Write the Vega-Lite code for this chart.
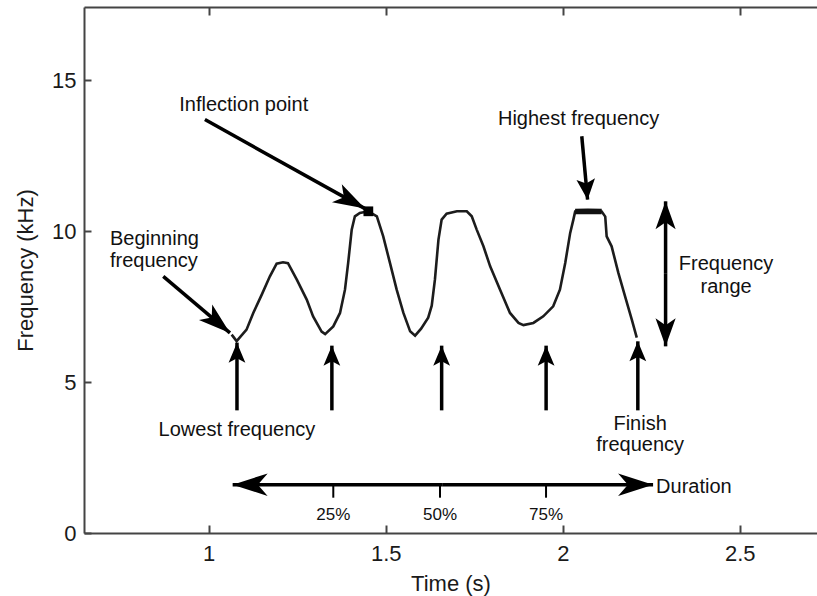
{
  "$schema": "https://vega.github.io/schema/vega-lite/v6.json",
  "width": 733,
  "height": 526,
  "autosize": {"type": "none"},
  "padding": {"left": 84, "top": 7, "right": 0, "bottom": 63},
  "background": "white",
  "config": {
    "view": {"stroke": null},
    "font": "Liberation Sans",
    "text": {"font": "Liberation Sans"}
  },
  "datasets": {
    "contour": [
      {"t": 1.065, "f": 6.573}, {"t": 1.079, "f": 6.357}, {"t": 1.107, "f": 6.739}, {"t": 1.126, "f": 7.292},
      {"t": 1.150, "f": 7.899}, {"t": 1.173, "f": 8.505}, {"t": 1.192, "f": 8.926}, {"t": 1.210, "f": 8.969},
      {"t": 1.224, "f": 8.943}, {"t": 1.249, "f": 8.396}, {"t": 1.277, "f": 7.733}, {"t": 1.295, "f": 7.179},
      {"t": 1.319, "f": 6.672}, {"t": 1.329, "f": 6.589}, {"t": 1.352, "f": 6.848}, {"t": 1.371, "f": 7.292},
      {"t": 1.385, "f": 8.064}, {"t": 1.394, "f": 8.949}, {"t": 1.404, "f": 10.053}, {"t": 1.413, "f": 10.494},
      {"t": 1.427, "f": 10.607}, {"t": 1.451, "f": 10.660}, {"t": 1.475, "f": 10.494}, {"t": 1.493, "f": 9.831},
      {"t": 1.512, "f": 8.949}, {"t": 1.531, "f": 8.064}, {"t": 1.550, "f": 7.292}, {"t": 1.569, "f": 6.682},
      {"t": 1.583, "f": 6.540}, {"t": 1.600, "f": 6.772}, {"t": 1.620, "f": 7.136}, {"t": 1.630, "f": 7.534},
      {"t": 1.639, "f": 8.396}, {"t": 1.649, "f": 9.722}, {"t": 1.658, "f": 10.385}, {"t": 1.672, "f": 10.583},
      {"t": 1.701, "f": 10.660}, {"t": 1.729, "f": 10.660}, {"t": 1.743, "f": 10.494}, {"t": 1.757, "f": 10.053},
      {"t": 1.776, "f": 9.500}, {"t": 1.795, "f": 8.837}, {"t": 1.823, "f": 8.064}, {"t": 1.851, "f": 7.292},
      {"t": 1.875, "f": 6.961}, {"t": 1.889, "f": 6.888}, {"t": 1.917, "f": 6.961}, {"t": 1.945, "f": 7.179},
      {"t": 1.973, "f": 7.511}, {"t": 1.992, "f": 8.064}, {"t": 2.007, "f": 8.949}, {"t": 2.021, "f": 9.944},
      {"t": 2.030, "f": 10.385}, {"t": 2.035, "f": 10.650}, {"t": 2.071, "f": 10.660}, {"t": 2.110, "f": 10.650},
      {"t": 2.120, "f": 10.484}, {"t": 2.124, "f": 9.831}, {"t": 2.138, "f": 9.500}, {"t": 2.157, "f": 8.618},
      {"t": 2.176, "f": 7.842}, {"t": 2.195, "f": 7.070}, {"t": 2.209, "f": 6.473}
    ],
    "plateau": [
      {"t": 2.035, "f": 10.650}, {"t": 2.071, "f": 10.660}, {"t": 2.110, "f": 10.650}
    ],
    "inflection": [{"t": 1.451, "f": 10.660}],
    "arrows": [
      {"id": "inflection", "t0": 0.9895, "f0": 13.699, "t1": 1.4415, "f1": 10.749},
      {"id": "beginning", "t0": 0.8718, "f0": 8.505, "t1": 1.0602, "f1": 6.629},
      {"id": "highest", "t0": 2.0537, "f0": 13.146, "t1": 2.0701, "f1": 11.047},
      {"id": "low1", "t0": 1.080, "f0": 4.064, "t1": 1.080, "f1": 6.308},
      {"id": "low2", "t0": 1.348, "f0": 4.064, "t1": 1.348, "f1": 6.208},
      {"id": "low3", "t0": 1.658, "f0": 4.064, "t1": 1.658, "f1": 6.208},
      {"id": "low4", "t0": 1.953, "f0": 4.064, "t1": 1.953, "f1": 6.208},
      {"id": "finish", "t0": 2.212, "f0": 4.064, "t1": 2.212, "f1": 6.351},
      {"id": "range_top", "t0": 2.2904, "f0": 8.588, "t1": 2.2904, "f1": 10.991},
      {"id": "range_bottom", "t0": 2.2904, "f0": 8.588, "t1": 2.2904, "f1": 6.185},
      {"id": "dur_left", "t0": 1.6614, "f0": 1.601, "t1": 1.0678, "f1": 1.601},
      {"id": "dur_right", "t0": 1.6614, "f0": 1.601, "t1": 2.2551, "f1": 1.601}
    ],
    "dur_ticks": [
      {"t": 1.352, "f0": 1.601, "f1": 1.17},
      {"t": 1.6534, "f0": 1.601, "f1": 1.17},
      {"t": 1.9528, "f0": 1.601, "f1": 1.17}
    ],
    "notes_left": [
      {"label": "Inflection point", "t": 0.917, "f": 13.974},
      {"label": "Beginning", "t": 0.7212, "f": 9.556},
      {"label": "frequency", "t": 0.7212, "f": 8.81},
      {"label": "Duration", "t": 2.2636, "f": 1.336}
    ],
    "notes_center": [
      {"label": "Lowest frequency", "t": 1.080, "f": 3.225},
      {"label": "Finish", "t": 2.2184, "f": 3.424},
      {"label": "frequency", "t": 2.2184, "f": 2.711},
      {"label": "Highest frequency", "t": 2.0446, "f": 13.533},
      {"label": "Frequency", "t": 2.4613, "f": 8.704},
      {"label": "range", "t": 2.4613, "f": 7.965}
    ],
    "pct": [
      {"label": "25%", "t": 1.352, "f": 0.441},
      {"label": "50%", "t": 1.6534, "f": 0.441},
      {"label": "75%", "t": 1.9528, "f": 0.441}
    ]
  },
  "resolve": {"axis": {"x": "independent", "y": "independent"}},
  "layer": [
    {
      "data": {"name": "contour"},
      "mark": {"type": "line", "color": "#1c1c1c", "strokeWidth": 2.6, "interpolate": "linear"},
      "encoding": {
        "x": {
          "field": "t", "type": "quantitative",
          "scale": {"domain": [0.648, 2.718], "nice": false, "zero": false},
          "axis": {
            "orient": "bottom", "values": [1, 1.5, 2, 2.5], "format": "~g",
            "grid": false, "domain": true, "domainColor": "#444", "domainWidth": 2,
            "ticks": true, "tickSize": -8, "tickWidth": 2, "tickColor": "#444",
            "labelPadding": 18, "labelFontSize": 22, "labelFont": "Liberation Sans", "labelColor": "#1a1a1a",
            "labelFlush": false, "labelOverlap": false,
            "title": "Time (s)", "titleFontSize": 22, "titleFont": "Liberation Sans", "titleFontWeight": "normal",
            "titleColor": "#1a1a1a", "titleBaseline": "alphabetic", "titleY": 57
          }
        },
        "y": {
          "field": "f", "type": "quantitative",
          "scale": {"domain": [0, 17.43], "nice": false, "zero": false},
          "axis": {
            "orient": "left", "values": [0, 5, 10, 15], "format": "~g",
            "grid": false, "domain": true, "domainColor": "#444", "domainWidth": 2,
            "ticks": true, "tickSize": -7, "tickWidth": 2, "tickColor": "#444",
            "labelPadding": 15, "labelFontSize": 22, "labelFont": "Liberation Sans", "labelColor": "#1a1a1a",
            "labelFlush": false, "labelOverlap": false,
            "title": "Frequency (kHz)", "titleFontSize": 22, "titleFont": "Liberation Sans", "titleFontWeight": "normal",
            "titleColor": "#1a1a1a", "titleAngle": 270, "titleAlign": "center", "titleBaseline": "alphabetic",
            "titleX": -52, "titleY": 263
          }
        }
      }
    },
    {
      "data": {"name": "plateau"},
      "mark": {"type": "line", "color": "#111", "strokeWidth": 5.5},
      "encoding": {
        "x": {
          "field": "t", "type": "quantitative",
          "axis": {
            "orient": "top", "values": [1, 1.5, 2, 2.5], "labels": false, "title": null,
            "grid": false, "domain": true, "domainColor": "#444", "domainWidth": 2,
            "ticks": true, "tickSize": -8, "tickWidth": 2, "tickColor": "#444"
          }
        },
        "y": {"field": "f", "type": "quantitative", "axis": null}
      }
    },
    {
      "data": {"name": "arrows"},
      "mark": {"type": "rule", "color": "#000", "strokeWidth": 3.5},
      "encoding": {
        "x": {"field": "t0", "type": "quantitative", "axis": null},
        "y": {"field": "f0", "type": "quantitative", "axis": null},
        "x2": {"field": "t1"},
        "y2": {"field": "f1"}
      }
    },
    {
      "data": {"name": "dur_ticks"},
      "mark": {"type": "rule", "color": "#000", "strokeWidth": 2},
      "encoding": {
        "x": {"field": "t", "type": "quantitative", "axis": null},
        "y": {"field": "f0", "type": "quantitative", "axis": null},
        "y2": {"field": "f1"}
      }
    },
    {
      "data": {"name": "inflection"},
      "mark": {"type": "point", "shape": "square", "filled": true, "color": "#000", "opacity": 1, "size": 95},
      "encoding": {
        "x": {"field": "t", "type": "quantitative", "axis": null},
        "y": {"field": "f", "type": "quantitative", "axis": null}
      }
    },
    {
      "data": {"name": "arrows"},
      "transform": [{"filter": {"field": "id", "oneOf": ["low1", "low2", "low3", "low4", "finish"]}}],
      "mark": {"type": "point", "shape": "M0,0 L0.42,1 L0,0.78 L-0.42,1 Z", "filled": true, "color": "#000", "opacity": 1, "strokeWidth": 0, "size": 1600, "angle": 0},
      "encoding": {
        "x": {"field": "t1", "type": "quantitative", "axis": null},
        "y": {"field": "f1", "type": "quantitative", "axis": null}
      }
    },
    {
      "data": {"name": "arrows"},
      "transform": [{"filter": {"field": "id", "equal": "highest"}}],
      "mark": {"type": "point", "shape": "M0,0 L0.45,1 L0,0.78 L-0.45,1 Z", "filled": true, "color": "#000", "opacity": 1, "strokeWidth": 0, "size": 1700, "angle": 174.9},
      "encoding": {
        "x": {"field": "t1", "type": "quantitative", "axis": null},
        "y": {"field": "f1", "type": "quantitative", "axis": null}
      }
    },
    {
      "data": {"name": "arrows"},
      "transform": [{"filter": {"field": "id", "equal": "range_top"}}],
      "mark": {"type": "point", "shape": "M0,0 L0.36,1 L0,0.75 L-0.36,1 Z", "filled": true, "color": "#000", "opacity": 1, "strokeWidth": 0, "size": 3136, "angle": 0},
      "encoding": {
        "x": {"field": "t1", "type": "quantitative", "axis": null},
        "y": {"field": "f1", "type": "quantitative", "axis": null}
      }
    },
    {
      "data": {"name": "arrows"},
      "transform": [{"filter": {"field": "id", "equal": "range_bottom"}}],
      "mark": {"type": "point", "shape": "M0,0 L0.36,1 L0,0.75 L-0.36,1 Z", "filled": true, "color": "#000", "opacity": 1, "strokeWidth": 0, "size": 3136, "angle": 180},
      "encoding": {
        "x": {"field": "t1", "type": "quantitative", "axis": null},
        "y": {"field": "f1", "type": "quantitative", "axis": null}
      }
    },
    {
      "data": {"name": "arrows"},
      "transform": [{"filter": {"field": "id", "equal": "dur_left"}}],
      "mark": {"type": "point", "shape": "M0,0 L0.32,1 L0,0.72 L-0.32,1 Z", "filled": true, "color": "#000", "opacity": 1, "strokeWidth": 0, "size": 4900, "angle": 270},
      "encoding": {
        "x": {"field": "t1", "type": "quantitative", "axis": null},
        "y": {"field": "f1", "type": "quantitative", "axis": null}
      }
    },
    {
      "data": {"name": "arrows"},
      "transform": [{"filter": {"field": "id", "equal": "dur_right"}}],
      "mark": {"type": "point", "shape": "M0,0 L0.32,1 L0,0.72 L-0.32,1 Z", "filled": true, "color": "#000", "opacity": 1, "strokeWidth": 0, "size": 4900, "angle": 90},
      "encoding": {
        "x": {"field": "t1", "type": "quantitative", "axis": null},
        "y": {"field": "f1", "type": "quantitative", "axis": null}
      }
    },
    {
      "data": {"name": "arrows"},
      "transform": [{"filter": {"field": "id", "equal": "inflection"}}],
      "mark": {"type": "point", "shape": "M0,0 L0.32,1 L0,0.75 L-0.32,1 Z", "filled": true, "color": "#000", "opacity": 1, "strokeWidth": 0, "size": 4096, "angle": 118.6},
      "encoding": {
        "x": {"field": "t1", "type": "quantitative", "axis": null},
        "y": {"field": "f1", "type": "quantitative", "axis": null}
      }
    },
    {
      "data": {"name": "arrows"},
      "transform": [{"filter": {"field": "id", "equal": "beginning"}}],
      "mark": {"type": "point", "shape": "M0,0 L0.32,1 L0,0.75 L-0.32,1 Z", "filled": true, "color": "#000", "opacity": 1, "strokeWidth": 0, "size": 4096, "angle": 130.4},
      "encoding": {
        "x": {"field": "t1", "type": "quantitative", "axis": null},
        "y": {"field": "f1", "type": "quantitative", "axis": null}
      }
    },
    {
      "data": {"name": "notes_left"},
      "mark": {"type": "text", "align": "left", "baseline": "alphabetic", "fontSize": 20, "font": "Liberation Sans", "color": "#111"},
      "encoding": {
        "x": {"field": "t", "type": "quantitative", "axis": null},
        "y": {"field": "f", "type": "quantitative", "axis": null},
        "text": {"field": "label"}
      }
    },
    {
      "data": {"name": "notes_center"},
      "mark": {"type": "text", "align": "center", "baseline": "alphabetic", "fontSize": 20, "font": "Liberation Sans", "color": "#111"},
      "encoding": {
        "x": {"field": "t", "type": "quantitative", "axis": null},
        "y": {"field": "f", "type": "quantitative", "axis": null},
        "text": {"field": "label"}
      }
    },
    {
      "data": {"name": "pct"},
      "mark": {"type": "text", "align": "center", "baseline": "alphabetic", "fontSize": 17, "font": "Liberation Sans", "color": "#111"},
      "encoding": {
        "x": {"field": "t", "type": "quantitative", "axis": null},
        "y": {"field": "f", "type": "quantitative", "axis": null},
        "text": {"field": "label"}
      }
    }
  ]
}
